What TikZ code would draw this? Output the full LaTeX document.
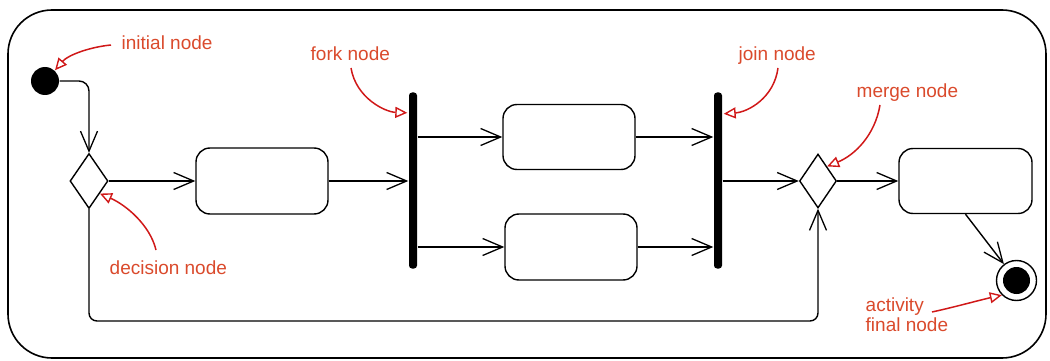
\documentclass[tikz,border=0pt]{standalone}
\usepackage{fontspec}
\setmainfont{Liberation Sans}
\usetikzlibrary{arrows.meta,shapes.geometric,calc}

\definecolor{notetext}{RGB}{218,74,44}
\definecolor{notearrow}{RGB}{208,24,24}

\begin{document}
\begin{tikzpicture}[x=1pt,y=-1pt,
  line width=1.4pt,
  flow/.style={-{Straight Barb[length=20pt,width=17pt,line width=1.3pt]}},
  activity/.style={draw,rounded corners=14pt,minimum width=132pt,minimum height=66pt,inner sep=0pt},
  decisionbox/.style={draw,diamond,inner sep=0pt,minimum width=38pt,minimum height=55pt},
  bar/.style={fill=black,draw=none,rounded corners=3pt,minimum width=8pt,minimum height=176pt,inner sep=0pt},
  notelabel/.style={text=notetext,font=\fontsize{19pt}{20pt}\selectfont,inner sep=0pt,anchor=base west},
  note/.style={draw=notearrow,line width=1.5pt,-{Triangle[open,length=12pt,width=11pt,line width=1.4pt]}}
]
\useasboundingbox (0,0) rectangle (1050,361);

% activity frame
\draw[line width=1.6pt,rounded corners=44pt] (8,10) rectangle (1046,358);

% nodes of the activity
\node[circle,fill=black,minimum size=28pt,inner sep=0pt] (init) at (45,81) {};
\node[decisionbox] (dec) at (89,181) {};
\node[activity] (act1) at (262,181) {};
\node[bar] (fork) at (413,180.5) {};
\node[activity,minimum height=65pt] (act2) at (569,137) {};
\node[activity] (act3) at (571,247) {};
\node[bar] (join) at (718,180.5) {};
\node[decisionbox,minimum width=37pt,minimum height=54pt] (merge) at (818,181) {};
\node[activity,minimum width=133pt,minimum height=65pt] (act4) at (965.5,181) {};
\node[circle,draw,fill=white,minimum size=40pt,inner sep=0pt] (final) at (1016.5,280.5) {};
\node[circle,fill=black,minimum size=27pt,inner sep=0pt] (finaldot) at (final.center) {};
\coordinate (loopy) at (0,321);

% control flows
\draw[flow,rounded corners=10pt] (init.east) -| (dec.north);
\draw[flow] (dec.east) -- (act1.west);
\draw[flow] (act1.east) -- (act1.east -| fork.west);
\draw[flow] (act2.west -| fork.east) -- (act2.west);
\draw[flow] (act3.west -| fork.east) -- (act3.west);
\draw[flow] (act2.east) -- (act2.east -| join.west);
\draw[flow] (act3.east) -- (act3.east -| join.west);
\draw[flow] (merge.west -| join.east) -- (merge.west);
\draw[flow] (merge.east) -- (act4.west);
\draw[flow] (act4.south) -- (final);
\draw[flow,rounded corners=8pt] (dec.south) -- (dec.south |- loopy) -- (merge.south |- loopy) -- (merge.south);

% annotations
\node[notelabel] (tinit) at (121,50) {initial node};
\node[notelabel] (tdec) at (109,274) {decision node};
\node[notelabel] (tfork) at (310,60) {fork node};
\node[notelabel] (tjoin) at (738,61) {join node};
\node[notelabel] (tmerge) at (856,98) {merge node};
\node[notelabel,align=left,anchor=north west] (tfinal) at (865,297) {activity\\final node};

\coordinate (sinit) at (111,45);
\coordinate (sdec) at (156,250);
\coordinate (sfork) at (351,68);
\coordinate (sjoin) at (778,68);
\coordinate (smerge) at (880,105);
\coordinate (sfinal) at (932,312);
\coordinate (pfork) at ($(fork.north west)+(-1,21)$);
\coordinate (pjoin) at ($(join.north east)+(1,22)$);

\draw[note] (sinit) .. controls (90,47) and (68,55) .. (init.47);
\draw[note] (sdec) .. controls (150,225) and (126,205) .. (dec.-49);
\draw[note] (sfork) .. controls (356,98) and (385,112) .. (pfork);
\draw[note] (sjoin) .. controls (774,98) and (748,112) .. (pjoin);
\draw[note] (smerge) .. controls (875,135) and (855,155) .. (merge.58);
\draw[note] (sfinal) .. controls (955,307) and (980,300) .. (final.225);
\end{tikzpicture}
\end{document}
